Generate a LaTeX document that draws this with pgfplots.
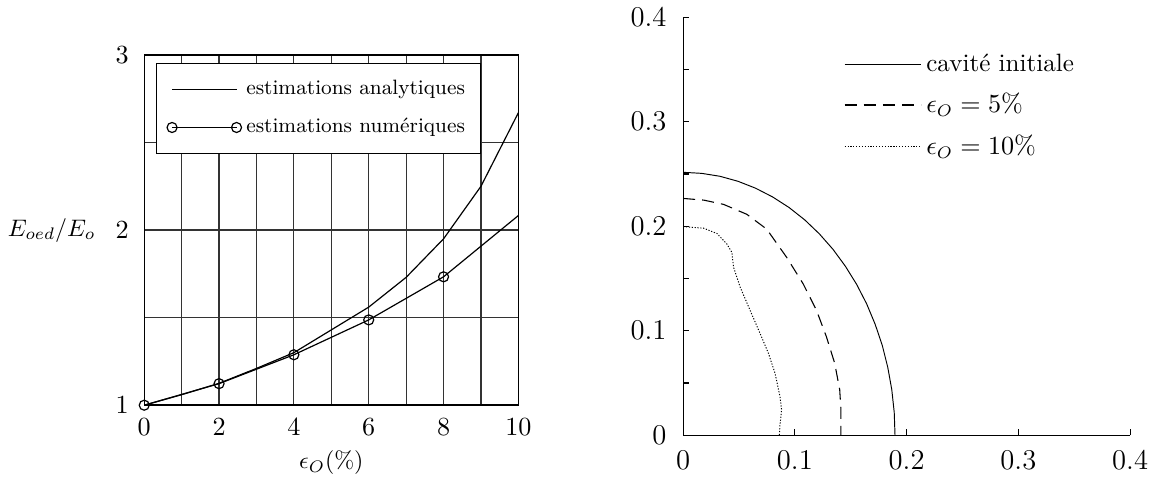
\documentclass[border=0pt]{standalone}
\usepackage{pgfplots}
\pgfplotsset{compat=1.18}
\pgfplotsset{
  short line legend/.style={legend image code/.code={\draw[##1] (0pt,0pt) -- (27pt,0pt);}},
  short mark legend/.style={legend image code/.code={\draw[##1] plot coordinates {(0pt,0pt) (27pt,0pt)};}},
  long line legend/.style={legend image code/.code={\draw[##1] (0pt,0pt) -- (32pt,0pt);}},
}
\begin{document}
\begin{tikzpicture}
% left panel: oedometric modulus ratio
\begin{axis}[
  at={(0pt,0pt)}, anchor=south west,
  scale only axis, width=156.7pt, height=146.7pt,
  xmin=0, xmax=10, ymin=1, ymax=3,
  xtick={0,2,4,6,8,10}, minor xtick={1,3,5,7,9},
  ytick={1,2,3}, minor ytick={1.5,2.5},
  grid=both,
  major grid style={black!80, line width=0.5pt},
  minor grid style={black!80, line width=0.5pt},
  major tick length=0pt, minor tick length=0pt,
  axis line style={black, line width=0.6pt},
  tick label style={font=\fontsize{10.5}{12}\selectfont},
  xticklabel style={yshift=-2pt},
  yticklabel style={xshift=-3pt},
  xlabel={$\epsilon_O(\%)$},
  ylabel={$E_{oed}/E_o$},
  label style={font=\fontsize{11}{13}\selectfont},
  every axis x label/.style={at={(axis description cs:0.5,-0.165)}, anchor=center},
  every axis y label/.style={at={(axis description cs:-0.108,0.5)}, anchor=east},
  legend style={at={(0.031,0.977)}, anchor=north west, draw=black, fill=white,
    font=\fontsize{8.7}{10.5}\selectfont, row sep=4.5pt, inner xsep=4.5pt, inner ysep=5pt,
    cells={anchor=west}},
]
\addplot[black, line width=0.5pt, short line legend]
  coordinates {(0,1) (1,1.06) (2,1.125) (3,1.21) (4,1.30) (5,1.43)
               (6,1.56) (7,1.73) (8,1.95) (9,2.25) (10,2.67)};
\addlegendentry{estimations analytiques}
\addplot[black, line width=0.5pt, mark=o, mark size=2.1pt, mark indices={1,2,3,4,5},
  short mark legend]
  coordinates {(0,1) (2,1.123) (4,1.288) (6,1.487) (8,1.733) (10,2.083)};
\addlegendentry{estimations numériques}
\end{axis}

% right panel: cavity shapes
\begin{axis}[
  at={(225.7pt,-12.6pt)}, anchor=south west,
  scale only axis, width=187.2pt, height=175.1pt,
  xmin=0, xmax=0.4, ymin=0, ymax=0.4,
  axis x line=bottom, axis y line=left,
  axis line style={-, line width=0.5pt},
  xtick={0,0.1,0.2,0.3,0.4}, ytick={0,0.1,0.2,0.3,0.4},
  minor ytick={0.05,0.15,0.25,0.35},
  tick align=inside, major tick length=2.6pt, minor tick length=2.6pt,
  tick style={black, line width=0.5pt},
  tick label style={font=\fontsize{11.5}{13}\selectfont},
  xticklabel style={yshift=-3pt},
  yticklabel style={xshift=-3.5pt},
  legend style={at={(0.343,0.935)}, anchor=north west, draw=none, fill=none,
    font=\fontsize{10.5}{12.5}\selectfont, row sep=3.5pt},
  legend cell align=left,
  long line legend,
]
\addplot[black, line width=0.4pt] coordinates {
  (0,0.2516) (0.0165,0.2506) (0.0329,0.2478) (0.0491,0.2430) (0.0648,0.2364)
  (0.0801,0.2280) (0.0948,0.2179) (0.1088,0.2061) (0.1219,0.1927) (0.1341,0.1779)
  (0.1452,0.1617) (0.1553,0.1443) (0.1642,0.1258) (0.1718,0.1063) (0.1782,0.0860)
  (0.1831,0.0651) (0.1867,0.0437) (0.1889,0.0219) (0.1896,0)};
\addlegendentry{cavité initiale}
\addplot[black, line width=0.45pt, dash pattern=on 5pt off 3pt] coordinates {
  (0,0.2266) (0.0184,0.2250) (0.0362,0.2209) (0.0570,0.2114) (0.0748,0.1972)
  (0.0926,0.1703) (0.1074,0.1449) (0.1193,0.1196) (0.1282,0.0943) (0.1356,0.0690)
  (0.1401,0.0437) (0.1412,0.0247) (0.1412,0)};
\addlegendentry{$\epsilon_O = 5\%$}
\addplot[black, line width=0.4pt, dash pattern=on 0.5pt off 0.7pt] coordinates {
  (0,0.1997) (0.0184,0.1981) (0.0303,0.1930) (0.0392,0.1829) (0.0436,0.1750)
  (0.0451,0.1608) (0.0510,0.1418) (0.0599,0.1196) (0.0688,0.0975) (0.0763,0.0785)
  (0.0822,0.0595) (0.0866,0.0373) (0.0881,0.0247) (0.0866,0.0089) (0.0861,0)};
\addlegendentry{$\epsilon_O = 10\%$}
\end{axis}
\end{tikzpicture}
\end{document}
